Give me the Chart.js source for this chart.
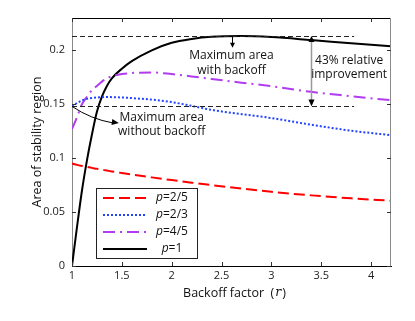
<!DOCTYPE html>
<html>
<head>
<meta charset="utf-8">
<script src="https://cdn.jsdelivr.net/npm/chart.js@4/dist/chart.umd.min.js"></script>
<style>
html,body{margin:0;padding:0;background:#fff;}
#wrap{width:415px;height:321px;}
</style>
</head>
<body>
<div id="wrap"><canvas id="c" width="415" height="321"></canvas></div>
<script>
// ---- data ----
const rValues  = [1, 1.05, 1.1, 1.15, 1.2, 1.25, 1.3, 1.35, 1.4, 1.5, 1.6, 1.8, 2.0, 2.2, 2.4, 2.7, 3.0, 3.4, 3.8, 4.2];
const areaP25  = [0.095, 0.0938, 0.0928, 0.0919, 0.091, 0.0901, 0.0893, 0.0885, 0.0877, 0.0862, 0.0848, 0.0822, 0.0797, 0.0773, 0.075, 0.0718, 0.0688, 0.0655, 0.0628, 0.0605];
const areaP23  = [0.148, 0.1512, 0.1535, 0.155, 0.1558, 0.1563, 0.1566, 0.1567, 0.1566, 0.1563, 0.1557, 0.1543, 0.152, 0.1485, 0.1448, 0.1408, 0.1372, 0.131, 0.1255, 0.1213];
const areaP45  = [0.127, 0.138, 0.150, 0.157, 0.163, 0.167, 0.171, 0.174, 0.176, 0.178, 0.179, 0.1795, 0.178, 0.1758, 0.1735, 0.170, 0.1668, 0.1615, 0.1575, 0.1537];
const areaP1   = [0, 0.036, 0.070, 0.098, 0.122, 0.143, 0.157, 0.167, 0.174, 0.183, 0.190, 0.200, 0.207, 0.2105, 0.2125, 0.2132, 0.2123, 0.2095, 0.2065, 0.2037];
const seriesP  = ['2/5', '2/3', '4/5', '1'];
const xTickValues = [1, 1.5, 2, 2.5, 3, 3.5, 4];
const yTickValues = [0, 0.05, 0.1, 0.15, 0.2];
const maxWithoutBackoff = 0.148;
const maxWithBackoff = 0.2133;
const guideEndR = 3.83;
const improvementR = 3.4;
const withBackoffArrowR = 2.6;
const withBackoffArrowTip = 0.2025;

const FONT = '"Open Sans", "Noto Sans", sans-serif';

function pts(arr){ return rValues.map((r,i)=>({x:r, y:arr[i]})); }

const styles = [
  {color:'#ff0000', dash:[11,5]},
  {color:'#2244ff', dash:[2,2]},
  {color:'#b23cf0', dash:[12,5,2,5]},
  {color:'#000000', dash:[]}
];
const seriesData = [areaP25, areaP23, areaP45, areaP1];

const datasets = seriesData.map((d,i)=>({
  label: 'p=' + seriesP[i],
  data: pts(d),
  borderColor: styles[i].color,
  borderDash: styles[i].dash,
  borderWidth: 2,
  pointRadius: 0,
  fill: false,
  cubicInterpolationMode: 'monotone'
}));

function arrowHead(ctx, x, y, dx, dy, len, half){
  const n = Math.hypot(dx,dy); dx/=n; dy/=n;
  ctx.beginPath();
  ctx.moveTo(x, y);
  ctx.lineTo(x - dx*len - dy*half, y - dy*len + dx*half);
  ctx.lineTo(x - dx*len + dy*half, y - dy*len - dx*half);
  ctx.closePath();
  ctx.fill();
}

const overlay = {
  id: 'overlay',
  afterDatasetsDraw(chart){
    const ctx = chart.ctx, xs = chart.scales.x, ys = chart.scales.y, a = chart.chartArea;
    ctx.save();
    // frame top / right
    ctx.lineWidth = 1;
    ctx.strokeStyle = '#000';
    ctx.beginPath(); ctx.moveTo(a.left, a.top+0.5); ctx.lineTo(a.right, a.top+0.5); ctx.stroke();
    ctx.strokeStyle = '#8a8a8a';
    ctx.beginPath(); ctx.moveTo(a.right-0.5, a.top); ctx.lineTo(a.right-0.5, a.bottom); ctx.stroke();
    // inward ticks
    ctx.strokeStyle = '#333';
    const TL = 4;
    xTickValues.forEach(v=>{
      const px = Math.round(xs.getPixelForValue(v))+0.5;
      ctx.beginPath(); ctx.moveTo(px, a.bottom); ctx.lineTo(px, a.bottom-TL); ctx.stroke();
      ctx.beginPath(); ctx.moveTo(px, a.top); ctx.lineTo(px, a.top+TL); ctx.stroke();
    });
    yTickValues.forEach(v=>{
      const py = Math.round(ys.getPixelForValue(v))+0.5;
      ctx.beginPath(); ctx.moveTo(a.left, py); ctx.lineTo(a.left+TL, py); ctx.stroke();
      ctx.beginPath(); ctx.moveTo(a.right, py); ctx.lineTo(a.right-TL, py); ctx.stroke();
    });
    // dashed guide lines
    ctx.strokeStyle = '#222';
    ctx.setLineDash([5,3]);
    [maxWithBackoff, maxWithoutBackoff].forEach(v=>{
      const py = Math.round(ys.getPixelForValue(v))+0.5;
      ctx.beginPath(); ctx.moveTo(a.left, py); ctx.lineTo(xs.getPixelForValue(guideEndR), py); ctx.stroke();
    });
    ctx.setLineDash([]);
    // vertical improvement arrow
    const vx = Math.round(xs.getPixelForValue(improvementR))+0.5;
    const vTop = ys.getPixelForValue(maxWithBackoff), vBot = ys.getPixelForValue(maxWithoutBackoff);
    ctx.strokeStyle = '#999'; ctx.lineWidth = 1.5;
    ctx.beginPath(); ctx.moveTo(vx, vTop+4); ctx.lineTo(vx, vBot-5); ctx.stroke();
    ctx.fillStyle = '#000';
    arrowHead(ctx, vx, vTop, 0, -1, 6, 3);
    arrowHead(ctx, vx, vBot, 0, 1, 7, 3);
    // with backoff arrow
    const bx = Math.round(xs.getPixelForValue(withBackoffArrowR))+0.5;
    ctx.strokeStyle = '#000'; ctx.lineWidth = 1;
    ctx.beginPath(); ctx.moveTo(bx, ys.getPixelForValue(maxWithBackoff)); ctx.lineTo(bx, ys.getPixelForValue(withBackoffArrowTip)-4); ctx.stroke();
    arrowHead(ctx, bx, ys.getPixelForValue(withBackoffArrowTip), 0, 1, 5, 2.5);
    // curved arrow (without backoff)
    const p0 = {x: xs.getPixelForValue(1), y: ys.getPixelForValue(maxWithoutBackoff)};
    const pc = {x: xs.getPixelForValue(1.19), y: ys.getPixelForValue(0.1362)};
    const p2 = {x: xs.getPixelForValue(1.47), y: ys.getPixelForValue(0.1327)};
    ctx.beginPath(); ctx.moveTo(p0.x, p0.y); ctx.quadraticCurveTo(pc.x, pc.y, p2.x-6, p2.y); ctx.stroke();
    arrowHead(ctx, p2.x, p2.y, p2.x-pc.x, p2.y-pc.y, 7, 3);
    // annotation text
    ctx.fillStyle = '#111';
    ctx.font = '12px ' + FONT;
    ctx.textAlign = 'center'; ctx.textBaseline = 'middle';
    const txt = (s, r, v) => ctx.fillText(s, xs.getPixelForValue(r), ys.getPixelForValue(v));
    txt('Maximum area', 2.6, 0.1954);
    txt('with backoff', 2.6, 0.1815);
    txt('43% relative', 3.78, 0.1907);
    txt('improvement', 3.78, 0.1775);
    txt('Maximum area', 1.9, 0.1372);
    txt('without backoff', 1.9, 0.1243);
    ctx.restore();
  },
  afterDraw(chart){
    const ctx = chart.ctx, a = chart.chartArea;
    ctx.save();
    // legend box
    const L = a.left + 24, T = a.top + 170, W = 101, H = 70;
    ctx.fillStyle = '#fff';
    ctx.fillRect(L, T, W, H);
    ctx.strokeStyle = '#222'; ctx.lineWidth = 1;
    ctx.strokeRect(L+0.5, T+0.5, W, H);
    chart.data.datasets.forEach((ds,i)=>{
      const y = T + 10 + i*17;
      ctx.strokeStyle = ds.borderColor; ctx.lineWidth = 2;
      ctx.setLineDash(ds.borderDash);
      ctx.beginPath(); ctx.moveTo(L+7, y); ctx.lineTo(L+51, y); ctx.stroke();
      ctx.setLineDash([]);
      // label: italic p + "=value"
      const cx = L + 76;
      ctx.fillStyle = '#111'; ctx.textBaseline = 'middle'; ctx.textAlign = 'left';
      ctx.font = 'italic 12px ' + FONT;
      const wp = ctx.measureText('p').width;
      ctx.font = '12px ' + FONT;
      const rest = '=' + seriesP[i];
      const wr = ctx.measureText(rest).width;
      const sx = cx - (wp+wr)/2;
      ctx.font = 'italic 12px ' + FONT;
      ctx.fillText('p', sx, y);
      ctx.font = '12px ' + FONT;
      ctx.fillText(rest, sx+wp, y);
    });
    // axis titles
    ctx.fillStyle = '#111';
    ctx.font = '12.5px ' + FONT;
    const t1 = 'Backoff factor  (';
    ctx.font = '12.5px ' + FONT; const w1 = ctx.measureText(t1).width;
    ctx.font = 'italic 12.5px "DejaVu Serif", serif'; const w2 = ctx.measureText('r').width;
    ctx.font = '12.5px ' + FONT; const w3 = ctx.measureText(')').width;
    const tx0 = (a.left + a.right)/2 - (w1+w2+w3)/2 + 2, ty = a.bottom + 27;
    ctx.textAlign = 'left'; ctx.textBaseline = 'middle';
    ctx.fillText(t1, tx0, ty);
    ctx.font = 'italic 12.5px "DejaVu Serif", serif'; ctx.fillText('r', tx0+w1+1, ty);
    ctx.font = '12.5px ' + FONT; ctx.fillText(')', tx0+w1+w2+2, ty);
    ctx.save();
    ctx.translate(a.left - 35, (a.top + a.bottom)/2);
    ctx.rotate(-Math.PI/2);
    ctx.textAlign = 'center';
    ctx.fillText('Area of stability region', 0, 0);
    ctx.restore();
    ctx.restore();
  }
};

new Chart(document.getElementById('c'), {
  type: 'line',
  data: { datasets },
  options: {
    responsive: false,
    animation: false,
    layout: { padding: { top: 18, right: 24, left: 0, bottom: 0 } },
    plugins: { legend: { display: false }, tooltip: { enabled: false } },
    scales: {
      x: {
        type: 'linear', min: 1, max: 4.2,
        afterBuildTicks: s => { s.ticks = xTickValues.map(v => ({ value: v })); },
        afterFit: s => { s.height = 55; },
        ticks: { font: { family: FONT, size: 11 }, color: '#222', padding: 3, maxRotation: 0, autoSkip: false, callback: v => String(v) },
        grid: { drawOnChartArea: false, drawTicks: false },
        border: { color: '#000', width: 1 }
      },
      y: {
        type: 'linear', min: 0, max: 0.23,
        afterBuildTicks: s => { s.ticks = yTickValues.map(v => ({ value: v })); },
        afterFit: s => { s.width = 72; },
        ticks: { font: { family: FONT, size: 11 }, color: '#222', padding: 7, autoSkip: false, callback: v => String(v) },
        grid: { drawOnChartArea: false, drawTicks: false },
        border: { color: '#8a8a8a', width: 1 }
      }
    }
  },
  plugins: [overlay]
});
</script>
</body>
</html>
